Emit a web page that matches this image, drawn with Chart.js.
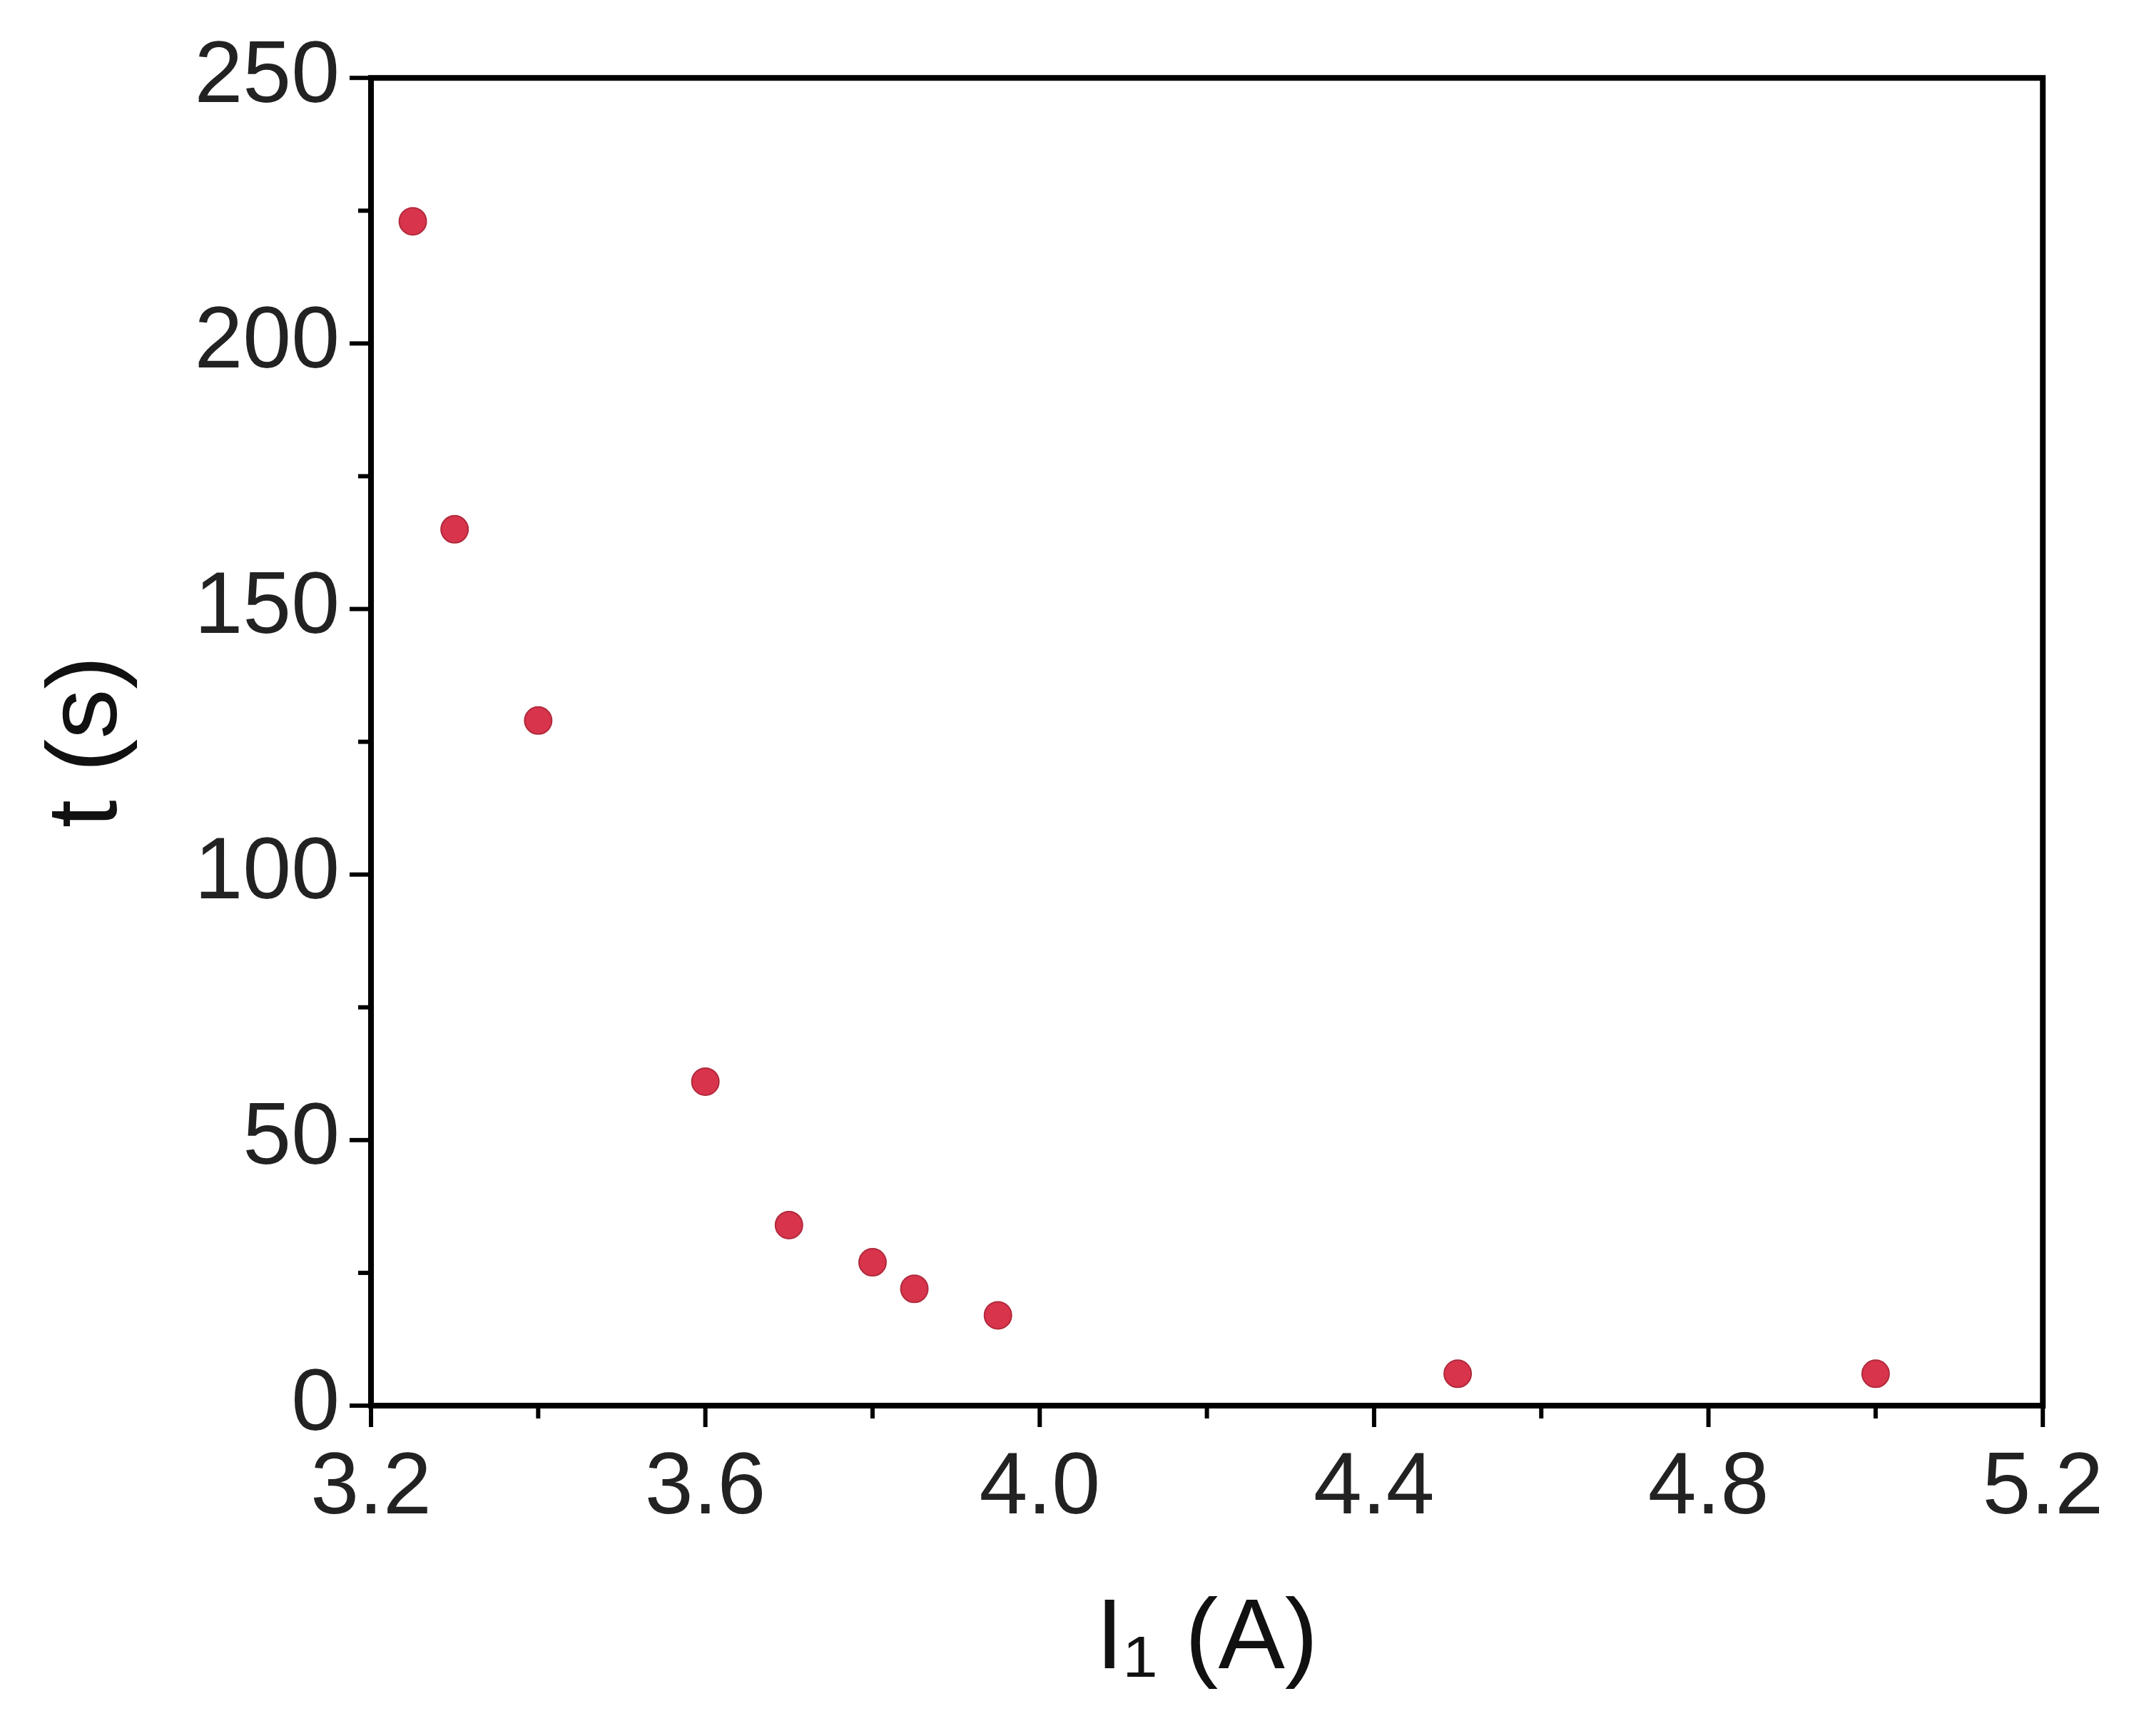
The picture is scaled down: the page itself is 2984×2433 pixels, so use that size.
<!DOCTYPE html>
<html>
<head>
<meta charset="utf-8">
<script src="https://cdn.jsdelivr.net/npm/chart.js@4.4.1/dist/chart.umd.min.js"></script>
<style>
  html, body { margin: 0; padding: 0; background: #fff; }
  #wrap { width: 2984px; height: 2433px; }
</style>
</head>
<body>
<div id="wrap"><canvas id="chart"></canvas></div>
<script>
// Data
const currents = [3.25, 3.3, 3.4, 3.6, 3.7, 3.8, 3.85, 3.95, 4.5, 5.0];
const times = [223, 165, 129, 61, 34, 27, 22, 17, 6, 6];
const xTicks = [3.2, 3.6, 4.0, 4.4, 4.8, 5.2];
const yTicks = [0, 50, 100, 150, 200, 250];

const points = currents.map((x, i) => ({ x: x, y: times[i] }));

// Frame plus major/minor outward ticks
const framePlugin = {
    id: 'frame',
    afterDraw(chart) {
        const { ctx, chartArea: a, scales } = chart;
        ctx.save();
        ctx.strokeStyle = '#000';
        ctx.lineWidth = 8;
        ctx.strokeRect(a.left, a.top, a.right - a.left, a.bottom - a.top);
        ctx.lineWidth = 6;
        for (let v = 3.2; v <= 5.2001; v += 0.2) {
            const px = scales.x.getPixelForValue(v);
            const major = xTicks.some(t => Math.abs(t - v) < 1e-6);
            ctx.beginPath();
            ctx.moveTo(px, a.bottom);
            ctx.lineTo(px, a.bottom + (major ? 30 : 18));
            ctx.stroke();
        }
        for (let v = 0; v <= 250; v += 25) {
            const py = scales.y.getPixelForValue(v);
            const major = v % 50 === 0;
            ctx.beginPath();
            ctx.moveTo(a.left, py);
            ctx.lineTo(a.left - (major ? 30 : 18), py);
            ctx.stroke();
        }
        ctx.restore();
    }
};

new Chart(document.getElementById('chart'), {
    type: 'scatter',
    data: {
        datasets: [{
            data: points,
            backgroundColor: '#d8344c',
            borderColor: '#b02a3c',
            borderWidth: 2,
            pointRadius: 19
        }]
    },
    options: {
        responsive: true,
        maintainAspectRatio: false,
        animation: false,
        layout: { padding: { top: 76, right: 116, left: 0, bottom: 0 } },
        plugins: { legend: { display: false }, tooltip: { enabled: false } },
        scales: {
            x: {
                min: 3.2, max: 5.2,
                afterBuildTicks: s => { s.ticks = xTicks.map(v => ({ value: v })); },
                afterFit: s => { s.height = 463; },
                grid: { display: false },
                border: { display: false },
                ticks: {
                    color: '#222', padding: 36,
                    font: { family: 'Liberation Sans', size: 122 },
                    callback: v => v.toFixed(1),
                    maxRotation: 0
                },
                title: {
                    display: true, text: 'I\u2081 (A)', color: '#111',
                    font: { family: 'Liberation Sans', size: 140 },
                    padding: { top: 20, bottom: 50 }
                }
            },
            y: {
                min: 0, max: 250,
                afterBuildTicks: s => { s.ticks = yTicks.map(v => ({ value: v })); },
                afterFit: s => { s.width = 520; },
                grid: { display: false },
                border: { display: false },
                ticks: {
                    color: '#222', padding: 36,
                    font: { family: 'Liberation Sans', size: 122 }
                },
                title: {
                    display: true, text: 't (s)', color: '#111',
                    font: { family: 'Liberation Sans', size: 140 },
                    padding: { top: 40, bottom: 0 }
                }
            }
        }
    },
    plugins: [framePlugin]
});
</script>
</body>
</html>
